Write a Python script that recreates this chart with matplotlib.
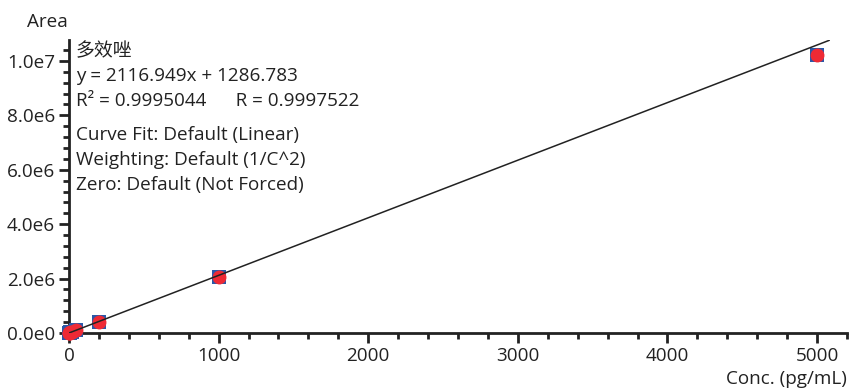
import matplotlib
matplotlib.use("Agg")
import matplotlib.pyplot as plt
import numpy as np
from matplotlib.ticker import MultipleLocator, FuncFormatter

plt.rcParams['font.family'] = ['Open Sans', 'Noto Sans CJK SC', 'DejaVu Sans']

conc = [1, 2, 5, 10, 20, 50, 200, 1000, 5000]
area = [3500, 5600, 12000, 22500, 44000, 107000, 410000, 2050000, 10220000]
slope = 2116.949
intercept = 1286.783
fit_x = [0, 5080]

title_lines = ["多效唑", "y = 2116.949x + 1286.783", "R² = 0.9995044      R = 0.9997522"]
info_lines = ["Curve Fit: Default (Linear)", "Weighting: Default (1/C^2)", "Zero: Default (Not Forced)"]

FS = 13.6
fig = plt.figure(figsize=(8.49, 3.92), dpi=100)
ax = fig.add_axes([69/849, (392-333)/392, (847-69)/849, (333-40)/392])

fx = np.array(fit_x, dtype=float)
ax.plot(fx, slope*fx + intercept, color='#222222', lw=1.1, zorder=5)
ax.scatter(conc, area, marker='s', s=108, color='#2a58a8', zorder=3, clip_on=False, linewidths=0)
ax.scatter(conc, area, marker='o', s=100, color='#ee2a35', zorder=4, clip_on=False, linewidths=0)

ax.set_xlim(0, 5200)
ax.set_ylim(0, 1.077e7)
for s in ['top', 'right']:
    ax.spines[s].set_visible(False)
for s in ['left', 'bottom']:
    ax.spines[s].set_linewidth(2)
    ax.spines[s].set_color('#222222')

ax.xaxis.set_major_locator(MultipleLocator(1000))
ax.xaxis.set_minor_locator(MultipleLocator(200))
ax.yaxis.set_major_locator(MultipleLocator(2e6))
ax.yaxis.set_minor_locator(MultipleLocator(4e5))
ax.yaxis.set_major_formatter(FuncFormatter(lambda v, p: "%.1fe%d" % (v/10**int(np.floor(np.log10(v))), int(np.floor(np.log10(v)))) if v > 0 else "0.0e0"))
ax.tick_params(which='major', length=7, width=2, color='#222222', labelsize=FS, labelcolor='#222222', pad=3)
ax.tick_params(which='minor', length=4, width=2, color='#222222')

fig.text(27/849, 1-22/392, "Area", fontsize=FS, color='#222222', va='center', ha='left')
fig.text(847/849, 1-379/392, "Conc. (pg/mL)", fontsize=FS, color='#222222', va='center', ha='right')

ys = [51, 76, 101]
for t, y in zip(title_lines, ys):
    fig.text(76/849, 1-y/392, t, fontsize=FS, color='#222222', va='center', ha='left')
ys2 = [135, 160, 185]
for t, y in zip(info_lines, ys2):
    fig.text(76/849, 1-y/392, t, fontsize=FS, color='#222222', va='center', ha='left')

fig.savefig("out.png", dpi=100)
